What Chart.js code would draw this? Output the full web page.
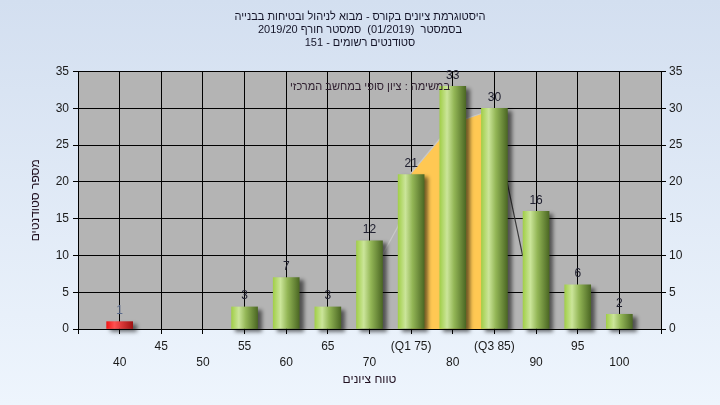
<!DOCTYPE html>
<html lang="he">
<head>
<meta charset="utf-8">
<script src="https://cdn.jsdelivr.net/npm/chart.js@4/dist/chart.umd.min.js"></script>
<style>
  html, body { margin: 0; padding: 0; background: #e4edf8; }
  canvas { display: block; }
</style>
</head>
<body>
<canvas id="gradeChart" width="720" height="405"></canvas>
<script>
// Data
const gradeBins = [40, 45, 50, 55, 60, 65, 70, 75, 80, 85, 90, 95, 100];
const studentCounts = [1, 0, 0, 3, 7, 3, 12, 21, 33, 30, 16, 6, 2];
const xTickLabels = ['40', '45', '50', '55', '60', '65', '70', '(Q1 75)', '80', '(Q3 85)', '90', '95', '100'];
const yTicks = [0, 5, 10, 15, 20, 25, 30, 35];

// quartile band (yellow) and the thin curve behind the bars
const bandX = [75, 78.4, 81.6, 83.7, 85];
const bandY = [21.2, 25.8, 28.6, 29.4, 29.8];
const curveX = [71.6, 73.4, 75, 78.4, 81.6, 83.7, 85, 86.5, 88.4];
const curveY = [10.2, 13.9, 21.2, 25.8, 28.6, 29.4, 29.8, 20.1, 9.9];

const titleLines = [
    'היסטוגרמת ציונים בקורס - מבוא לניהול ובטיחות בבנייה',
    'בסמסטר  (01/2019)  סמסטר חורף 2019/20',
    'סטודנטים רשומים - 151'
];
const noteText = 'במשימה : ציון סופי במחשב המרכזי';
const yTitle = 'מספר סטודנטים';
const xTitle = 'טווח ציונים';

const FONT = '"Liberation Sans", Arial, sans-serif';
const BAR_W = 26;

function barFill(ctx) {
    const chart = ctx.chart;
    const xs = chart.scales.x;
    if (!xs || !ctx.raw) return '#9cc75a';
    const cx = xs.getPixelForValue(ctx.raw.x);
    if (!isFinite(cx)) return '#9cc75a';
    const g = chart.ctx.createLinearGradient(cx - BAR_W / 2, 0, cx + BAR_W / 2, 0);
    if (ctx.raw.x < 55) {
        g.addColorStop(0, '#f01818');
        g.addColorStop(0.3, '#ff5050');
        g.addColorStop(1, '#a01212');
    } else {
        g.addColorStop(0, '#a2cf4a');
        g.addColorStop(0.28, '#cbe59a');
        g.addColorStop(0.55, '#93b656');
        g.addColorStop(1, '#4c6824');
    }
    return g;
}

// page background + gray plot area
const backdrop = {
    id: 'backdrop',
    beforeDraw(chart) {
        const { ctx, chartArea: a } = chart;
        ctx.save();
        const g = ctx.createLinearGradient(0, 0, 0, chart.height);
        g.addColorStop(0, '#d3dff0');
        g.addColorStop(1, '#eef5fd');
        ctx.fillStyle = g;
        ctx.fillRect(0, 0, chart.width, chart.height);
        ctx.fillStyle = '#b4b4b4';
        ctx.fillRect(a.left, a.top, a.right - a.left, a.bottom - a.top);
        ctx.restore();
    }
};

// drop shadow under the bars, value labels above them, note text
const barExtras = {
    id: 'barExtras',
    beforeDatasetDraw(chart, args) {
        if (args.meta.type !== 'bar') return;
        const ctx = chart.ctx;
        ctx.save();
        ctx.shadowColor = 'rgba(0,0,0,0.55)';
        ctx.shadowOffsetX = 4;
        ctx.shadowOffsetY = 3;
        ctx.shadowBlur = 4;
    },
    afterDatasetDraw(chart, args) {
        if (args.meta.type !== 'bar') return;
        chart.ctx.restore();
    },
    afterDatasetsDraw(chart) {
        const ctx = chart.ctx;
        const meta = chart.getDatasetMeta(0);
        ctx.save();
        ctx.font = '12px ' + FONT;
        ctx.textAlign = 'center';
        ctx.textBaseline = 'middle';
        meta.data.forEach((bar, i) => {
            const v = studentCounts[i];
            if (!v) return;
            ctx.fillStyle = gradeBins[i] < 55 ? '#5a6a8a' : '#202030';
            ctx.fillText(String(v), bar.x, bar.y - 11);
        });
        ctx.direction = 'rtl';
        ctx.font = '11px ' + FONT;
        ctx.fillStyle = '#302030';
        ctx.textAlign = 'center';
        ctx.fillText(noteText, 370, 87);
        ctx.restore();
    }
};

const canvas = document.getElementById('gradeChart');
canvas.dir = 'rtl';

new Chart(canvas.getContext('2d'), {
    data: {
        datasets: [
            {
                type: 'bar',
                label: 'סטודנטים',
                data: gradeBins.map((g, i) => ({ x: g, y: studentCounts[i] || null })),
                backgroundColor: barFill,
                borderWidth: 0,
                barThickness: BAR_W,
                clip: false,
                order: 0
            },
            {
                type: 'line',
                label: 'curve',
                data: curveX.map((x, i) => ({ x: x, y: curveY[i] })),
                borderWidth: 1.2,
                borderColor: '#3a3a3a',
                segment: {
                    borderColor: c => c.p0.parsed.x >= 85 ? '#3a3a3a' : '#c8c8c8'
                },
                pointRadius: 0,
                fill: false,
                order: 1
            },
            {
                type: 'line',
                label: 'band',
                data: bandX.map((x, i) => ({ x: x, y: bandY[i] })),
                borderWidth: 0,
                borderColor: 'rgba(0,0,0,0)',
                backgroundColor: '#ffc853',
                pointRadius: 0,
                fill: 'origin',
                order: 2
            }
        ]
    },
    options: {
        responsive: false,
        animation: false,
        layout: { padding: 0 },
        plugins: {
            legend: { display: false },
            tooltip: { enabled: false },
            title: {
                display: true,
                text: titleLines,
                color: '#141428',
                font: { family: FONT, size: 11, weight: 'normal', lineHeight: 1.2 },
                padding: { top: 10, bottom: 22 }
            }
        },
        scales: {
            x: {
                type: 'linear',
                min: 35,
                max: 105,
                offset: false,
                afterFit(scale) { scale.height = 76; },
                ticks: {
                    stepSize: 5,
                    autoSkip: false,
                    maxRotation: 0,
                    padding: 5,
                    color: '#1a1a1a',
                    font: { family: FONT, size: 12, lineHeight: 1.33 },
                    callback(value) {
                        const i = Math.round((value - 40) / 5);
                        if (i < 0 || i >= xTickLabels.length) return '';
                        const t = xTickLabels[i];
                        return i % 2 === 0 ? ['', t] : [t, ''];
                    }
                },
                grid: { offset: false, color: '#000', lineWidth: 1, tickLength: 5 },
                border: { color: '#000' },
                title: {
                    display: true,
                    text: xTitle,
                    color: '#201020',
                    font: { family: FONT, size: 12 },
                    padding: { top: 2, bottom: 18 }
                }
            },
            y: {
                position: 'left',
                min: 0,
                max: 35,
                afterFit(scale) { scale.width = 78; },
                afterBuildTicks(scale) { scale.ticks = yTicks.map(v => ({ value: v })); },
                ticks: {
                    padding: 4,
                    color: '#1a1a1a',
                    font: { family: FONT, size: 12 }
                },
                grid: { color: '#000', lineWidth: 1, tickLength: 5 },
                border: { color: '#000' },
                title: {
                    display: true,
                    text: yTitle,
                    color: '#201020',
                    font: { family: FONT, size: 12 },
                    padding: { top: 28 }
                }
            },
            y2: {
                position: 'right',
                min: 0,
                max: 35,
                afterFit(scale) { scale.width = 59; },
                afterBuildTicks(scale) { scale.ticks = yTicks.map(v => ({ value: v })); },
                ticks: {
                    padding: 3,
                    color: '#1a1a1a',
                    font: { family: FONT, size: 12 }
                },
                grid: { drawOnChartArea: false, color: '#000', tickLength: 5 },
                border: { color: '#000' }
            }
        }
    },
    plugins: [backdrop, barExtras]
});
</script>
</body>
</html>
